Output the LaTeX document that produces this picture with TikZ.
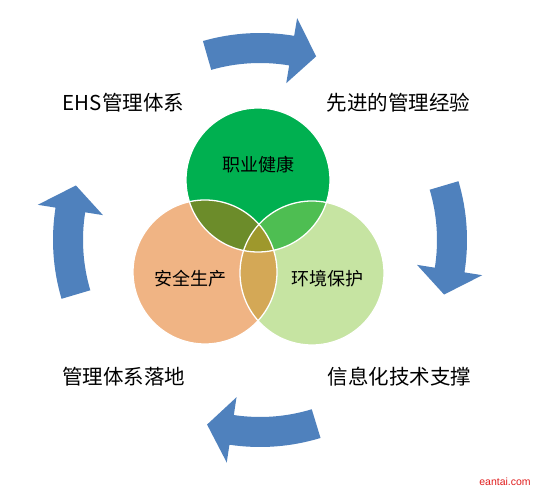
\documentclass[tikz,border=0pt]{standalone}
\usepackage{fontspec}
\newfontfamily\cjk{Noto Sans CJK SC}
\newfontfamily\wmfont{Liberation Sans}
\usetikzlibrary{calc}
\definecolor{arrowblue}{RGB}{79,129,189}
\definecolor{cgreen}{RGB}{0,176,80}
\definecolor{corange}{RGB}{240,180,132}
\definecolor{clight}{RGB}{198,228,162}
\definecolor{cgo}{RGB}{108,140,42}
\definecolor{cgl}{RGB}{78,190,82}
\definecolor{col}{RGB}{212,168,86}
\definecolor{cmid}{RGB}{158,152,44}
\definecolor{wmred}{RGB}{225,30,30}
\tikzset{
  outerlabel/.style={font=\cjk\fontsize{20.5}{24}\selectfont, text=black, inner sep=0pt},
  innerlabel/.style={font=\cjk\fontsize{18}{22}\selectfont, text=black, inner sep=0pt},
  ring/.style={draw=white, line width=1.3pt},
}
\newcommand{\curvedarrow}[1]{%
  \fill[arrowblue]
    ($(C)+(#1+16.5:207)$) arc[start angle=#1+16.5, end angle=#1-9, radius=207]
    -- ($(C)+(#1-9:225)$)
    -- ($(C)+(#1-16.5:192)$)
    -- ($(C)+(#1-9:159)$)
    -- ($(C)+(#1-9:177)$)
    arc[start angle=#1-9, end angle=#1+16.5, radius=177]
    -- cycle;}
\begin{document}
\begin{tikzpicture}[x=1pt,y=1pt]
\useasboundingbox (0,0) rectangle (535,490);
\fill[white] (0,0) rectangle (535,490);
\coordinate (C) at (260,250);
% arrows
\curvedarrow{89.5}
\curvedarrow{0}
\curvedarrow{-89.5}
\curvedarrow{180}
% circles
\coordinate (g) at (258,310);
\coordinate (o) at (205,218);
\coordinate (l) at (312,217);
\fill[cgreen] (g) circle[radius=72];
\fill[corange] (o) circle[radius=72];
\fill[clight] (l) circle[radius=72];
\begin{scope}
  \clip (g) circle[radius=72];
  \fill[cgo] (o) circle[radius=72];
  \fill[cgl] (l) circle[radius=72];
\end{scope}
\begin{scope}
  \clip (o) circle[radius=72];
  \fill[col] (l) circle[radius=72];
\end{scope}
\begin{scope}
  \clip (g) circle[radius=72];
  \clip (o) circle[radius=72];
  \fill[cmid] (l) circle[radius=72];
\end{scope}
\draw[ring] (g) circle[radius=72];
\draw[ring] (o) circle[radius=72];
\draw[ring] (l) circle[radius=72];
% labels
\node[innerlabel] (zy) at (258,325) {职业健康};
\node[innerlabel] (aq) at (190,211) {安全生产};
\node[innerlabel] (hj) at (327,211) {环境保护};
\node[outerlabel] (ehs) at (123.5,387) {EHS管理体系};
\node[outerlabel] (xj) at (398.5,387) {先进的管理经验};
\node[outerlabel] (gl) at (123.5,113) {管理体系落地};
\node[outerlabel] (xx) at (399.5,113) {信息化技术支撑};
\node[font=\wmfont\fontsize{10.5}{12}\selectfont, text=wmred, inner sep=0pt] (wm) at (505,8) {eantai.com};
\end{tikzpicture}
\end{document}
